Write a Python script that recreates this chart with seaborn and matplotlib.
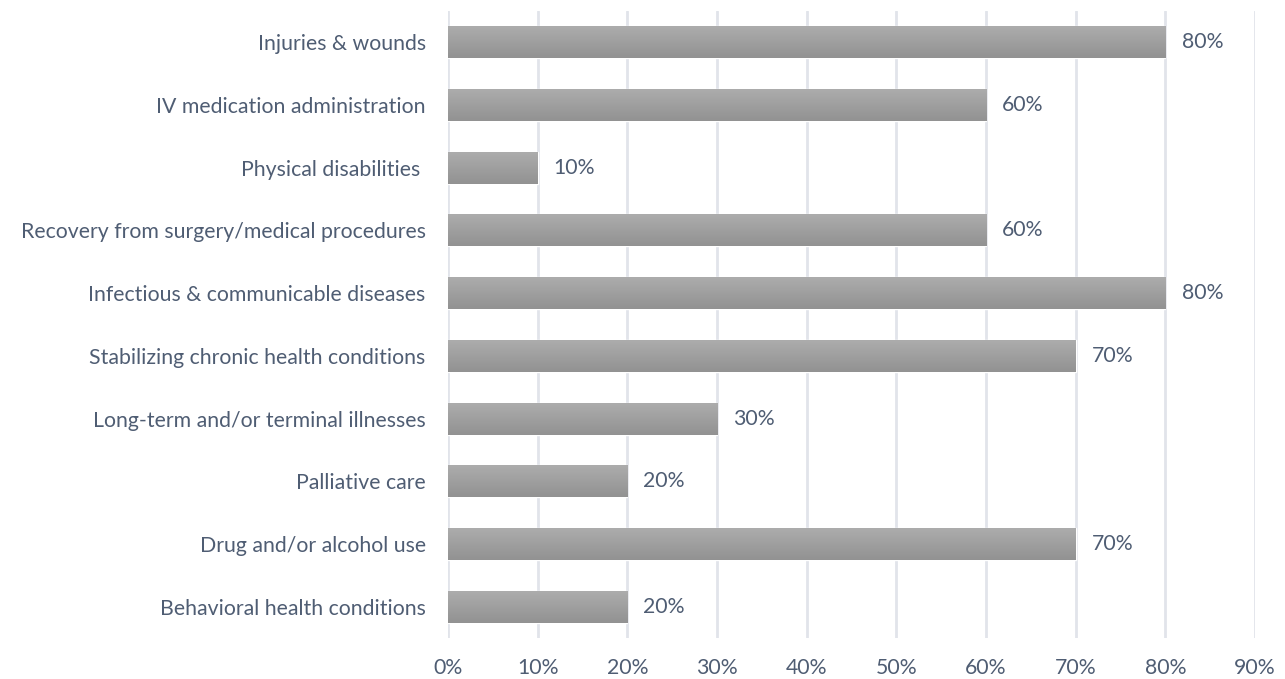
import matplotlib
matplotlib.use("Agg")
import matplotlib.pyplot as plt
import seaborn as sns
import numpy as np
import pandas as pd
from matplotlib.colors import LinearSegmentedColormap

categories = [
    "Injuries & wounds",
    "IV medication administration",
    "Physical disabilities ",
    "Recovery from surgery/medical procedures",
    "Infectious & communicable diseases",
    "Stabilizing chronic health conditions",
    "Long-term and/or terminal illnesses",
    "Palliative care",
    "Drug and/or alcohol use",
    "Behavioral health conditions",
]
values = [80, 60, 10, 60, 80, 70, 30, 20, 70, 20]
xticks = [0, 10, 20, 30, 40, 50, 60, 70, 80, 90]

sns.set_theme(style="white")
plt.rcParams['font.family'] = ['Lato', 'DejaVu Sans']
text_color = "#4f5d73"
fs = 15.3

df = pd.DataFrame({"category": categories, "value": values})

fig = plt.figure(figsize=(12.85, 6.79), dpi=100)
ax = fig.add_axes([0.3486, 0.0598, 0.6281, 0.9246])

sns.barplot(data=df, y="category", x="value", orient="h", color="#a0a0a0",
            width=0.51, ax=ax, saturation=1)

grad = np.linspace(0, 1, 64).reshape(-1, 1)
cmap = LinearSegmentedColormap.from_list("g", ["#adadad", "#929292"])
for p, v in zip(list(ax.patches), values):
    x0, y0 = p.get_x(), p.get_y()
    w, h = p.get_width(), p.get_height()
    im = ax.imshow(grad, extent=[x0, x0 + w, y0, y0 + h], aspect="auto",
                   cmap=cmap, origin="lower", zorder=p.get_zorder() + 0.1)
    im.set_clip_path(p)
    ax.text(x0 + w + 1.8, y0 + h / 2, f"{v}%",
            va="center", ha="left", fontsize=fs, color=text_color)

ax.set_xlim(0, 90)
ax.set_ylim(9.5, -0.5)
ax.set_xticks(xticks)
ax.set_xticklabels([f"{t}%" for t in xticks])
ax.xaxis.grid(True, color="#e1e4ea", linewidth=2)
ax.set_axisbelow(True)
for s in ax.spines.values():
    s.set_visible(False)
ax.set_xlabel("")
ax.set_ylabel("")
ax.tick_params(axis="both", length=0, labelsize=fs, colors=text_color)
ax.tick_params(axis="x", pad=14)
ax.tick_params(axis="y", pad=16)

fig.savefig("out.png", dpi=100)
